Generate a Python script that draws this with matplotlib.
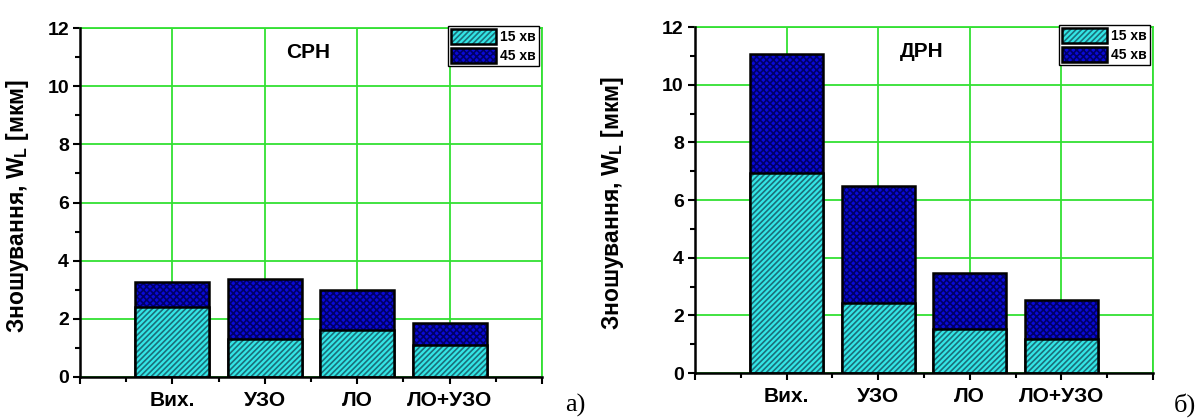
import matplotlib
matplotlib.use('Agg')
import matplotlib.pyplot as plt
from matplotlib.ticker import FixedLocator, MultipleLocator
from matplotlib.legend_handler import HandlerTuple

plt.rcParams['font.family'] = ['Liberation Sans', 'DejaVu Sans']
plt.rcParams['font.weight'] = 'bold'
plt.rcParams['mathtext.fontset'] = 'custom'
plt.rcParams['mathtext.rm'] = 'Liberation Sans:bold'
plt.rcParams['mathtext.it'] = 'Liberation Sans:bold'
plt.rcParams['mathtext.bf'] = 'Liberation Sans:bold'
plt.rcParams['hatch.linewidth'] = 1.2

# data
categories = ['Вих.', 'УЗО', 'ЛО', 'ЛО+УЗО']
series_names = ['15 хв', '45 хв']
srn_15 = [2.42, 1.32, 1.62, 1.10]
srn_45 = [3.25, 3.38, 2.98, 1.87]
drn_15 = [6.95, 2.42, 1.52, 1.17]
drn_45 = [11.05, 6.48, 3.48, 2.52]

CYAN = '#33e6e6'
CYAN_HATCH = '#1b6f7a'
BLUE = '#0a0ad8'
BLUE_HATCH = '#00006a'
GRID = '#33e033'


def draw_panel(ax, v15, v45, title, label_x):
    x = list(range(1, len(categories) + 1))
    # 45 min bars (full height), 15 min bars drawn over them
    b45 = ax.bar(x, v45, 0.8, color=BLUE, hatch='xxxxx', edgecolor=BLUE_HATCH,
                 linewidth=0, zorder=2)
    o45 = ax.bar(x, v45, 0.8, fill=False, edgecolor='black', linewidth=1.8, zorder=3)
    b15 = ax.bar(x, v15, 0.8, color=CYAN, hatch='//////', edgecolor=CYAN_HATCH,
                 linewidth=0, zorder=4)
    o15 = ax.bar(x, v15, 0.8, fill=False, edgecolor='black', linewidth=1.8, zorder=5)

    ax.set_xlim(0, 5)
    ax.set_ylim(0, 12)
    ax.xaxis.set_major_locator(FixedLocator(range(0, 6)))
    ax.set_xticklabels([''] + categories + [''])
    ax.xaxis.set_minor_locator(MultipleLocator(0.5))
    ax.yaxis.set_major_locator(MultipleLocator(2))
    ax.yaxis.set_minor_locator(MultipleLocator(1))

    ax.grid(True, which='major', color=GRID, linewidth=1.3)
    ax.set_axisbelow(True)
    for s in ['left', 'bottom']:
        ax.spines[s].set_linewidth(1.8)
        ax.spines[s].set_zorder(6)
    for s in ['top', 'right']:
        ax.spines[s].set_color(GRID)
        ax.spines[s].set_linewidth(1.3)

    ax.tick_params(axis='both', which='major', length=5, width=1.5, direction='out')
    ax.tick_params(axis='both', which='minor', length=3.5, width=1.5, direction='out')
    ax.tick_params(axis='x', which='major', labelsize=15, pad=5)
    ax.tick_params(axis='y', which='major', labelsize=14, pad=3)
    ax.tick_params(top=False, right=False, which='both')

    ax.set_ylabel('Зношування, $W_L$ [мкм]', fontsize=16.5, fontweight='bold')
    ax.yaxis.set_label_coords(label_x, 0.49)

    ax.text(2.47, 11.15, title, fontsize=15, fontweight='bold', ha='center', va='center')

    ax.legend([(b15, o15), (b45, o45)], series_names,
              handler_map={tuple: HandlerTuple(ndivide=1)},
              loc='upper right', bbox_to_anchor=(1.0, 1.015), fontsize=10,
              frameon=True, fancybox=False, edgecolor='black', framealpha=1,
              handlelength=3.2, handleheight=1.3, handletextpad=0.3,
              labelspacing=0.25, borderpad=0.25, borderaxespad=0.2)


fig = plt.figure(figsize=(12.03, 4.2), dpi=100)
ax1 = fig.add_axes([0.0665, 0.1024, 0.384, 0.8309])
ax2 = fig.add_axes([0.5777, 0.1119, 0.3807, 0.8238])

draw_panel(ax1, srn_15, srn_45, 'СРН', -0.106)
draw_panel(ax2, drn_15, drn_45, 'ДРН', -0.151)

fig.text(575 / 1203, 1 - 405 / 420, 'а)', family='Liberation Serif', fontsize=19,
         fontweight='normal', ha='center', va='center')
fig.text(1185 / 1203, 1 - 405 / 420, 'б)', family='Liberation Serif', fontsize=19,
         fontweight='normal', ha='center', va='center')

fig.savefig('out.png', dpi=100)
